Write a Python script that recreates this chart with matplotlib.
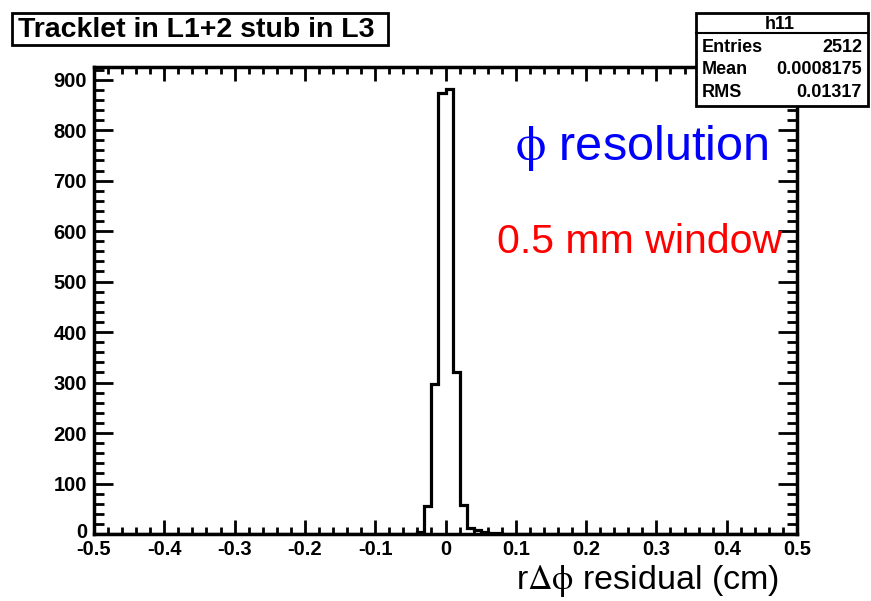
import matplotlib
matplotlib.use('Agg')
import matplotlib.pyplot as plt
import matplotlib.patches as mplpatches
import matplotlib.transforms as mtransforms
import numpy as np
from matplotlib.ticker import MultipleLocator

plt.rcParams['font.family'] = ['Liberation Sans', 'DejaVu Sans']
plt.rcParams['mathtext.fontset'] = 'stix'

# histogram h11: 100 bins of 0.01 from -0.5 to 0.5, only non-empty bins listed
nBins = 100
xMin = -0.5
xMax = 0.5
binLowEdges = [-0.04, -0.03, -0.02, -0.01, 0.00, 0.01, 0.02, 0.03, 0.04, 0.05, 0.06, 0.07]
binCounts = [3, 55, 298, 873, 881, 320, 57, 12, 7, 3, 2, 1]

xTicks = [-0.5, -0.4, -0.3, -0.2, -0.1, 0, 0.1, 0.2, 0.3, 0.4, 0.5]
xTickLabels = ['-0.5', '-0.4', '-0.3', '-0.2', '-0.1', '0', '0.1', '0.2', '0.3', '0.4', '0.5']
yTicks = [0, 100, 200, 300, 400, 500, 600, 700, 800, 900]

statNames = ['Entries', 'Mean', 'RMS']
statValues = ['2512', '0.0008175', '0.01317']

figureWidth = 8.71
figureHeight = 6.01
fig = plt.figure(figsize=(figureWidth, figureHeight), dpi=100)

edges = np.linspace(xMin, xMax, nBins + 1)
counts = np.zeros(nBins)
for lo, c in zip(binLowEdges, binCounts):
    counts[int(round((lo - xMin) / 0.01))] = c

panel1 = fig.add_axes([94 / 871, 67 / 601, 703 / 871, 467 / 601])
panel1.stairs(counts, edges, color='black', linewidth=2.3)
panel1.set_xlim(xMin, xMax)
panel1.set_ylim(0, 1.05 * max(binCounts))

panel1.set_xticks(xTicks)
panel1.set_xticklabels(xTickLabels)
panel1.set_yticks(yTicks)
panel1.xaxis.set_minor_locator(MultipleLocator(0.02))
panel1.yaxis.set_minor_locator(MultipleLocator(20))

for side in ['left', 'right', 'top', 'bottom']:
    panel1.spines[side].set_linewidth(2.5)

panel1.tick_params(axis='both', which='both', direction='in',
                   bottom=True, top=True, left=True, right=True,
                   labelbottom=True, labelleft=True, width=2)
panel1.tick_params(axis='x', which='major', length=10, pad=4)
panel1.tick_params(axis='x', which='minor', length=5)
panel1.tick_params(axis='y', which='major', length=14, pad=5)
panel1.tick_params(axis='y', which='minor', length=7)
for lab in panel1.get_xticklabels() + panel1.get_yticklabels():
    lab.set_fontweight('bold')
    lab.set_fontsize(14.5)

# lift the y "0" label a little so it clears the "-0.5" label
zeroLabel = panel1.get_yticklabels()[0]
zeroLabel.set_transform(zeroLabel.get_transform() +
                        mtransforms.ScaledTranslation(0, 4 / 100, fig.dpi_scale_trans))

# overlay in pixel coordinates for the ROOT boxes and labels
over = fig.add_axes([0, 0, 1, 1], zorder=10)
over.set_xlim(0, 871)
over.set_ylim(601, 0)
over.axis('off')
over.patch.set_alpha(0)

# title box
over.add_patch(mplpatches.Rectangle((12, 13), 376, 32, facecolor='white',
                                    edgecolor='black', linewidth=2))
over.text(18, 37, 'Tracklet in L1+2 stub in L3', fontsize=20.5, fontweight='bold',
          ha='left', va='baseline')

# stats box
over.add_patch(mplpatches.Rectangle((696, 13), 172, 93, facecolor='white',
                                    edgecolor='black', linewidth=2))
over.plot([696, 868], [33, 33], color='black', linewidth=1.5)
over.text(780, 29, 'h11', fontsize=13, fontweight='bold', ha='center', va='baseline')
for i, (name, val) in enumerate(zip(statNames, statValues)):
    yb = 52 + i * 22.5
    over.text(702, yb, name, fontsize=13, fontweight='bold', ha='left', va='baseline')
    over.text(862, yb, val, fontsize=13, fontweight='bold', ha='right', va='baseline')

over.text(768, 160, r'$\mathrm{\phi}$ resolution', fontsize=35, color='blue',
          ha='right', va='baseline')
over.text(782, 253, '0.5 mm window', fontsize=29.5, color='red',
          ha='right', va='baseline')
over.text(779, 589, r'r$\Delta\mathrm{\phi}$ residual (cm)', fontsize=24.5,
          ha='right', va='baseline')

plt.savefig('out.png', dpi=100)
